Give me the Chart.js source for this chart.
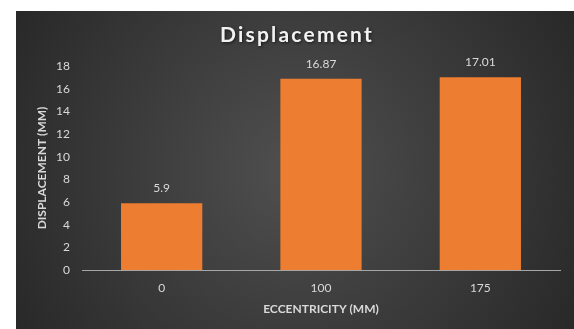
<!DOCTYPE html>
<html>
<head>
<meta charset="utf-8">
<script src="https://cdn.jsdelivr.net/npm/chart.js@4.4.1/dist/chart.umd.min.js"></script>
<style>
    html, body { margin: 0; padding: 0; background: #fff; }
    canvas { display: block; }
</style>
</head>
<body>
<canvas id="myChart" width="574" height="329"></canvas>
<script>
const chartTitle = 'Displacement'
const eccentricity = ['0', '100', '175']
const displacement = [5.9, 16.87, 17.01]
const yMax = 18
const yStep = 2

const textColor = '#d9d9d9'
const font = 'Lato, "Open Sans", sans-serif'
const ctx = document.getElementById('myChart').getContext('2d');

// dark panel behind everything, like the office chart style
const panel = {
    id: 'panel',
    beforeDraw(chart) {
        const c = chart.ctx
        const x0 = 16, y0 = 11, x1 = chart.width, y1 = chart.height
        const g = c.createRadialGradient(295, 170, 20, 295, 170, 340)
        g.addColorStop(0, '#4d4d4d')
        g.addColorStop(1, '#262626')
        c.save()
        c.fillStyle = g
        c.fillRect(x0, y0, x1 - x0, y1 - y0)
        c.restore()
    }
}

const titlePlugin = {
    id: 'spacedTitle',
    afterDraw(chart) {
        const c = chart.ctx
        c.save()
        c.font = `bold 21px ${font}`
        c.letterSpacing = '2.2px'
        c.textAlign = 'center'
        c.textBaseline = 'middle'
        c.shadowColor = 'rgba(0,0,0,0.6)'
        c.shadowBlur = 3
        c.shadowOffsetX = 1
        c.shadowOffsetY = 1
        c.fillStyle = '#f2f2f2'
        c.fillText(chartTitle, 297, 35)
        c.restore()
    }
}

const valueLabels = {
    id: 'valueLabels',
    afterDatasetsDraw(chart) {
        const c = chart.ctx
        const meta = chart.getDatasetMeta(0)
        c.save()
        c.font = `12px ${font}`
        c.fillStyle = textColor
        c.textAlign = 'center'
        c.textBaseline = 'middle'
        meta.data.forEach((bar, i) => {
            c.fillText(String(displacement[i]), bar.x, bar.y - 15)
        })
        c.restore()
    }
}

const myChart = new Chart(ctx, {
    type: 'bar',
    data: {
        labels: eccentricity,
        datasets: [{
            label: 'Displacement',
            data: displacement,
            backgroundColor: '#ed7d31',
            borderWidth: 0,
            categoryPercentage: 1,
            barPercentage: 0.51
        }]
    },
    options: {
        responsive: false,
        animation: false,
        layout: {
            padding: { left: 16, top: 66, right: 14, bottom: 0 }
        },
        plugins: {
            legend: { display: false },
            tooltip: { enabled: false }
        },
        scales: {
            x: {
                afterFit: s => { s.height = 59 },
                grid: { display: false, drawTicks: false },
                border: { display: true, color: '#a6a6a6', width: 1 },
                ticks: {
                    color: textColor,
                    font: { family: font, size: 12 },
                    padding: 11
                },
                title: {
                    display: true,
                    text: 'ECCENTRICITY (MM)',
                    color: textColor,
                    font: { family: font, size: 12, weight: 'bold' },
                    padding: { top: 0, bottom: 13 }
                }
            },
            y: {
                min: 0,
                max: yMax,
                afterFit: s => { s.width = 66 },
                grid: { display: false, drawTicks: false },
                border: { display: false },
                ticks: {
                    stepSize: yStep,
                    color: textColor,
                    font: { family: font, size: 12 },
                    padding: 12
                },
                title: {
                    display: true,
                    text: 'DISPLACEMENT (MM)',
                    color: textColor,
                    font: { family: font, size: 12, weight: 'bold' },
                    padding: { top: 19, bottom: 0 }
                }
            }
        }
    },
    plugins: [panel, titlePlugin, valueLabels]
});
</script>
</body>
</html>
